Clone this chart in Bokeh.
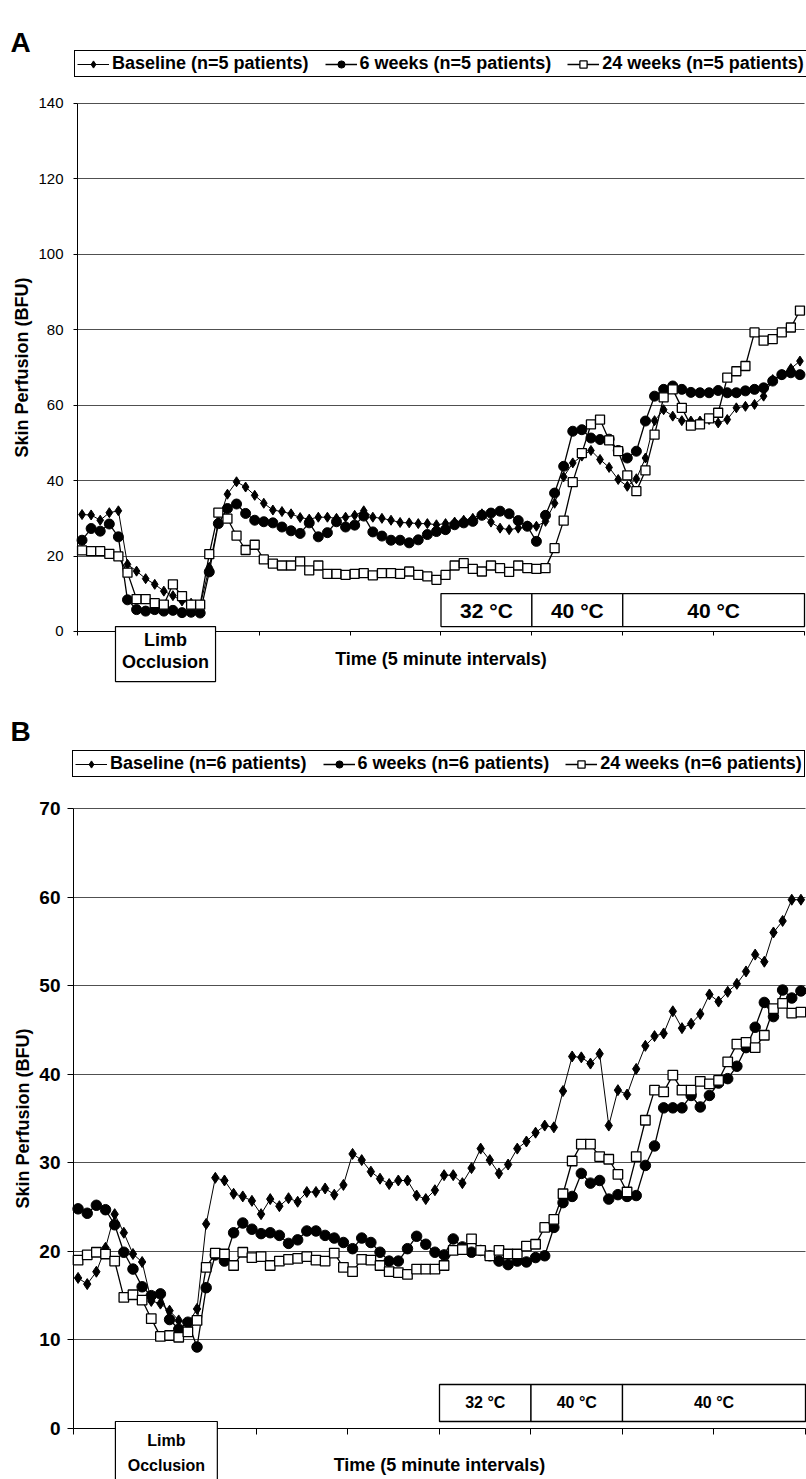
import math
from bokeh.plotting import figure
from bokeh.models import Range1d, FixedTicker, Legend, LegendItem, BoxAnnotation, Label
from bokeh.layouts import column
from bokeh.embed import file_html
from bokeh.resources import INLINE

FONT = "Liberation Sans"

intervals = list(range(1, 81))

a_baseline = [31.0, 30.9, 29.5, 31.5, 32.0, 17.8, 16.0, 14.0, 12.5, 10.7,
              9.5, 8.1, 7.5, 6.9, 17.0, 29.0, 36.4, 39.7, 38.3, 36.1,
              34.0, 32.2, 31.8, 31.2, 30.2, 29.8, 30.3, 30.3, 30.0, 30.3,
              30.8, 32.0, 30.3, 30.0, 29.5, 28.9, 28.8, 28.6, 28.6, 28.3,
              28.6, 29.0, 29.5, 30.0, 31.2, 29.0, 27.4, 27.0, 27.4, 28.0,
              27.9, 29.2, 34.0, 41.0, 44.7, 46.5, 48.0, 45.6, 43.5, 40.3,
              38.5, 40.5, 46.0, 55.9, 58.8, 57.1, 55.9, 55.8, 55.8, 56.2,
              55.3, 56.2, 59.3, 59.7, 60.2, 62.4, 66.8, 68.1, 69.7, 71.7]
a_6wk = [24.2, 27.3, 26.6, 28.5, 25.1, 8.4, 5.8, 5.4, 5.8, 5.4,
         5.6, 5.0, 5.1, 4.9, 15.8, 28.6, 32.6, 33.8, 31.3, 29.5,
         29.1, 28.8, 27.7, 26.7, 26.0, 28.8, 25.1, 26.2, 29.1, 27.7,
         28.2, 30.6, 26.4, 25.3, 24.2, 24.2, 23.5, 24.3, 25.7, 26.5,
         27.0, 28.3, 28.8, 29.2, 30.8, 31.4, 31.9, 31.2, 29.4, 27.9,
         23.9, 30.8, 36.7, 43.8, 53.1, 53.5, 51.3, 50.9, 51.0, 48.0,
         46.0, 47.8, 55.8, 62.4, 64.2, 65.1, 64.2, 63.4, 63.3, 63.3,
         63.9, 63.3, 63.3, 63.8, 64.2, 64.6, 66.4, 68.1, 68.6, 68.1]
a_24wk = [21.5, 21.3, 21.3, 20.6, 19.9, 15.6, 8.6, 8.6, 7.5, 7.1,
          12.5, 9.4, 7.1, 7.1, 20.5, 31.5, 29.9, 25.4, 21.6, 23.0,
          19.1, 18.0, 17.5, 17.5, 18.6, 16.2, 17.5, 15.3, 15.3, 15.0,
          15.3, 15.5, 14.9, 15.5, 15.5, 15.3, 15.9, 15.0, 14.6, 13.7,
          15.0, 17.5, 18.1, 16.6, 15.9, 17.5, 16.8, 15.8, 17.5, 16.8,
          16.6, 16.8, 22.1, 29.4, 39.6, 47.3, 54.9, 56.2, 50.7, 47.8,
          41.4, 37.2, 42.7, 52.2, 62.1, 64.2, 59.3, 54.6, 54.9, 56.5,
          58.0, 67.3, 69.0, 70.4, 79.3, 77.1, 77.5, 79.3, 80.6, 85.1]

b_baseline = [17.0, 16.3, 17.7, 20.4, 24.2, 22.1, 19.7, 18.8, 14.4, 14.1,
              13.3, 12.2, 11.8, 13.5, 23.1, 28.3, 28.0, 26.5, 26.2, 25.7,
              24.2, 25.9, 25.1, 26.0, 25.6, 26.7, 26.7, 27.1, 26.4, 27.5,
              31.0, 30.3, 29.0, 28.2, 27.6, 28.0, 28.0, 26.3, 25.9, 26.9,
              28.6, 28.6, 27.7, 29.4, 31.6, 30.3, 28.8, 29.8, 31.6, 32.4,
              33.4, 34.2, 34.0, 38.1, 42.0, 41.9, 41.2, 42.3, 34.2, 38.2,
              37.7, 40.6, 43.2, 44.3, 44.6, 47.1, 45.2, 45.7, 46.8, 49.0,
              48.2, 49.3, 50.2, 51.6, 53.5, 52.7, 56.0, 57.3, 59.7, 59.7]
b_6wk = [24.8, 24.3, 25.2, 24.7, 23.0, 19.9, 18.0, 16.0, 15.0, 15.2,
         12.3, 11.2, 12.0, 9.2, 15.9, 19.6, 18.9, 22.1, 23.2, 22.5,
         22.0, 22.1, 21.8, 20.9, 21.3, 22.3, 22.3, 21.8, 21.5, 21.0,
         20.3, 21.5, 21.0, 19.9, 18.9, 18.9, 20.3, 21.7, 20.8, 19.9,
         19.6, 21.4, 20.5, 19.9, 20.1, 19.5, 18.9, 18.5, 18.9, 18.8,
         19.3, 19.5, 22.7, 25.5, 26.2, 28.8, 27.7, 28.0, 25.9, 26.4,
         26.2, 26.3, 29.7, 31.9, 36.2, 36.2, 36.2, 37.6, 36.3, 37.6,
         39.0, 39.5, 40.9, 43.0, 45.3, 48.1, 46.5, 49.5, 48.6, 49.4]
b_24wk = [19.0, 19.6, 19.9, 19.7, 18.9, 14.8, 15.1, 14.5, 12.4, 10.4,
          10.5, 10.3, 10.9, 12.2, 18.2, 19.8, 19.7, 18.4, 19.9, 19.3,
          19.4, 18.4, 18.9, 19.1, 19.2, 19.4, 19.0, 18.9, 19.8, 18.2,
          17.7, 19.1, 19.0, 18.4, 17.7, 17.6, 17.4, 18.0, 18.0, 18.0,
          18.4, 20.1, 20.2, 21.4, 20.1, 19.5, 20.1, 19.7, 19.7, 20.6,
          20.8, 22.7, 23.6, 26.5, 30.2, 32.1, 32.1, 30.7, 30.4, 28.7,
          26.7, 30.7, 34.8, 38.2, 38.0, 39.9, 38.2, 38.2, 39.2, 38.9,
          39.3, 41.4, 43.4, 43.6, 43.0, 44.4, 47.4, 48.0, 46.9, 47.0]

a_legend = ["Baseline (n=5 patients)", "6 weeks (n=5 patients)", "24 weeks (n=5 patients)"]
b_legend = ["Baseline (n=6 patients)", "6 weeks (n=6 patients)", "24 weeks (n=6 patients)"]
a_yticks = [0, 20, 40, 60, 80, 100, 120, 140]
b_yticks = [0, 10, 20, 30, 40, 50, 60, 70]
x_ticks = [0.5, 10.5, 20.5, 30.5, 40.5, 50.5, 60.5, 70.5, 80.5]
temp_labels = ["32 \u00b0C", "40 \u00b0C", "40 \u00b0C"]
temp_edges = [40.5, 50.5, 60.5, 80.5]
y_title = "Skin Perfusion (BFU)"
x_title = "Time (5 minute intervals)"
limb_lines = ["Limb", "Occlusion"]


def make_panel(letter, base, wk6, wk24, labels, yticks, cfg):
    p = figure(width=806, height=cfg["H"],
               x_range=Range1d(cfg["x0"], cfg["x1"]), y_range=Range1d(cfg["y0"], cfg["y1"]),
               output_backend="svg", toolbar_location=None,
               min_border_left=0, min_border_right=0,
               min_border_top=0, min_border_bottom=0)
    p.outline_line_color = None
    p.background_fill_color = "white"
    p.border_fill_color = "white"

    # y axis fixed at the first category edge
    ya = p.yaxis[0]
    ya.fixed_location = 0.5
    ya.ticker = FixedTicker(ticks=yticks)
    ya.bounds = (yticks[0], yticks[-1])
    ya.axis_line_color = "black"
    ya.major_tick_line_color = "black"
    ya.major_tick_out = cfg["tick_out_y"]
    ya.major_tick_in = 0
    ya.minor_tick_line_color = None
    ya.major_label_text_font = FONT
    ya.major_label_text_font_size = cfg["ytick_size"]
    ya.major_label_text_font_style = cfg["ytick_style"]
    ya.major_label_text_color = "black"
    ya.major_label_standoff = cfg["ytick_standoff"]

    # x axis at y = 0
    xa = p.xaxis[0]
    xa.fixed_location = 0
    xa.ticker = FixedTicker(ticks=x_ticks)
    xa.bounds = (0.5, 80.5)
    xa.axis_line_color = "black"
    xa.major_tick_line_color = "black"
    xa.major_tick_out = cfg["tick_out_x"]
    xa.major_tick_in = 0
    xa.minor_tick_line_color = None
    xa.major_label_text_color = None

    p.xgrid.visible = False
    p.ygrid.ticker = FixedTicker(ticks=yticks)
    p.ygrid.cross_bounds = (0.5, 80.5)
    p.ygrid.grid_line_color = "#505050"
    p.ygrid.grid_line_width = 1

    r1l = p.line(intervals, base, line_color="black", line_width=1)
    r1s = p.scatter(intervals, base, marker="diamond", size=cfg["dsize"],
                    fill_color="black", line_color="black")
    r2l = p.line(intervals, wk6, line_color="black", line_width=1.3)
    r2s = p.scatter(intervals, wk6, marker="circle", size=cfg["csize"],
                    fill_color="black", line_color="black")
    r3l = p.line(intervals, wk24, line_color="black", line_width=1.3)
    r3s = p.scatter(intervals, wk24, marker="square", size=cfg["ssize"],
                    fill_color="white", line_color="black", line_width=1.3)

    legend = Legend(items=[LegendItem(label=labels[0], renderers=[r1l, r1s]),
                           LegendItem(label=labels[1], renderers=[r2l, r2s]),
                           LegendItem(label=labels[2], renderers=[r3l, r3s])],
                    orientation="horizontal", location=cfg["leg_loc"],
                    label_text_font=FONT, label_text_font_style="bold",
                    label_text_font_size="18px", label_text_color="black",
                    glyph_width=32, glyph_height=18, label_standoff=3,
                    spacing=cfg["leg_spacing"], padding=2, margin=0,
                    border_line_color="black", border_line_width=1, border_line_alpha=1,
                    background_fill_color="white", background_fill_alpha=1)
    p.add_layout(legend)

    # temperature boxes
    for k, lab in enumerate(temp_labels):
        p.add_layout(BoxAnnotation(left=temp_edges[k], right=temp_edges[k + 1],
                                   bottom=cfg["temp_bot"], top=cfg["temp_top"],
                                   fill_color="white", fill_alpha=1,
                                   line_color="black", line_alpha=1, line_width=1.3))
        p.add_layout(Label(x=(temp_edges[k] + temp_edges[k + 1]) / 2, y=cfg["temp_text_y"],
                           text=lab, text_align="center", text_baseline="middle",
                           text_font=FONT, text_font_style="bold",
                           text_font_size=cfg["temp_size"], text_color="black"))

    # limb occlusion box
    p.add_layout(BoxAnnotation(left=cfg["limb_l"], right=cfg["limb_r"],
                               bottom=cfg["limb_bot"], top=cfg["limb_top"],
                               fill_color="white", fill_alpha=1,
                               line_color="black", line_alpha=1, line_width=1.2))
    cx = (cfg["limb_l"] + cfg["limb_r"]) / 2
    for txt, yy in zip(limb_lines, cfg["limb_text_y"]):
        p.add_layout(Label(x=cx, y=yy, text=txt, text_align="center", text_baseline="middle",
                           text_font=FONT, text_font_style="bold",
                           text_font_size=cfg["limb_size"], text_color="black"))

    # x title
    p.add_layout(Label(x=40.5, y=cfg["xt_y"], text=x_title, text_align="center",
                       text_baseline="middle", text_font=FONT, text_font_style="bold",
                       text_font_size="18px", text_color="black"))
    # y title
    p.add_layout(Label(x=cfg["yt_x"], y=cfg["yt_y"], text=y_title, angle=math.pi / 2,
                       text_align="center", text_baseline="middle", text_font=FONT,
                       text_font_style="bold", text_font_size=cfg["yt_size"], text_color="black"))
    # panel letter
    p.add_layout(Label(x=cfg["let_x"], y=cfg["let_y"], text=letter, text_align="left",
                       text_baseline="alphabetic", text_font=FONT, text_font_style="bold",
                       text_font_size="28px", text_color="black"))
    return p


cfgA = dict(H=700, x0=-7.973, x1=80.72, y0=-18.30, y1=167.31,
            tick_out_y=4, tick_out_x=4,
            ytick_size="15px", ytick_style="normal", ytick_standoff=10,
            dsize=10, csize=10, ssize=9, leg_loc=(74, 623), leg_spacing=16,
            temp_bot=1.31, temp_top=10.06, temp_text_y=5.6, temp_size="21px",
            limb_l=4.68, limb_r=15.69, limb_bot=-13.28, limb_top=1.31,
            limb_text_y=[-2.2, -8.0], limb_size="18px", xt_y=-7.3,
            yt_x=-5.61, yt_y=70.0, yt_size="18px", let_x=-6.87, let_y=156.17)

cfgB = dict(H=779, x0=-7.478, x1=80.61, y0=-5.758, y1=82.19,
            tick_out_y=6, tick_out_x=6,
            ytick_size="19px", ytick_style="bold", ytick_standoff=7,
            dsize=11, csize=10.5, ssize=9.5, leg_loc=(72, 702), leg_spacing=16,
            temp_bot=0.79, temp_top=4.97, temp_text_y=2.9, temp_size="16px",
            limb_l=5.08, limb_r=16.22, limb_bot=-8.0, limb_top=0.79,
            limb_text_y=[-1.36, -4.18], limb_size="16px", xt_y=-4.12,
            yt_x=-5.07, yt_y=35.0, yt_size="18px", let_x=-6.39, let_y=78.69)

pA = make_panel("A", a_baseline, a_6wk, a_24wk, a_legend, a_yticks, cfgA)
pB = make_panel("B", b_baseline, b_6wk, b_24wk, b_legend, b_yticks, cfgB)

layout = column(pA, pB)
open("out.html", "w").write(file_html(layout, INLINE))
